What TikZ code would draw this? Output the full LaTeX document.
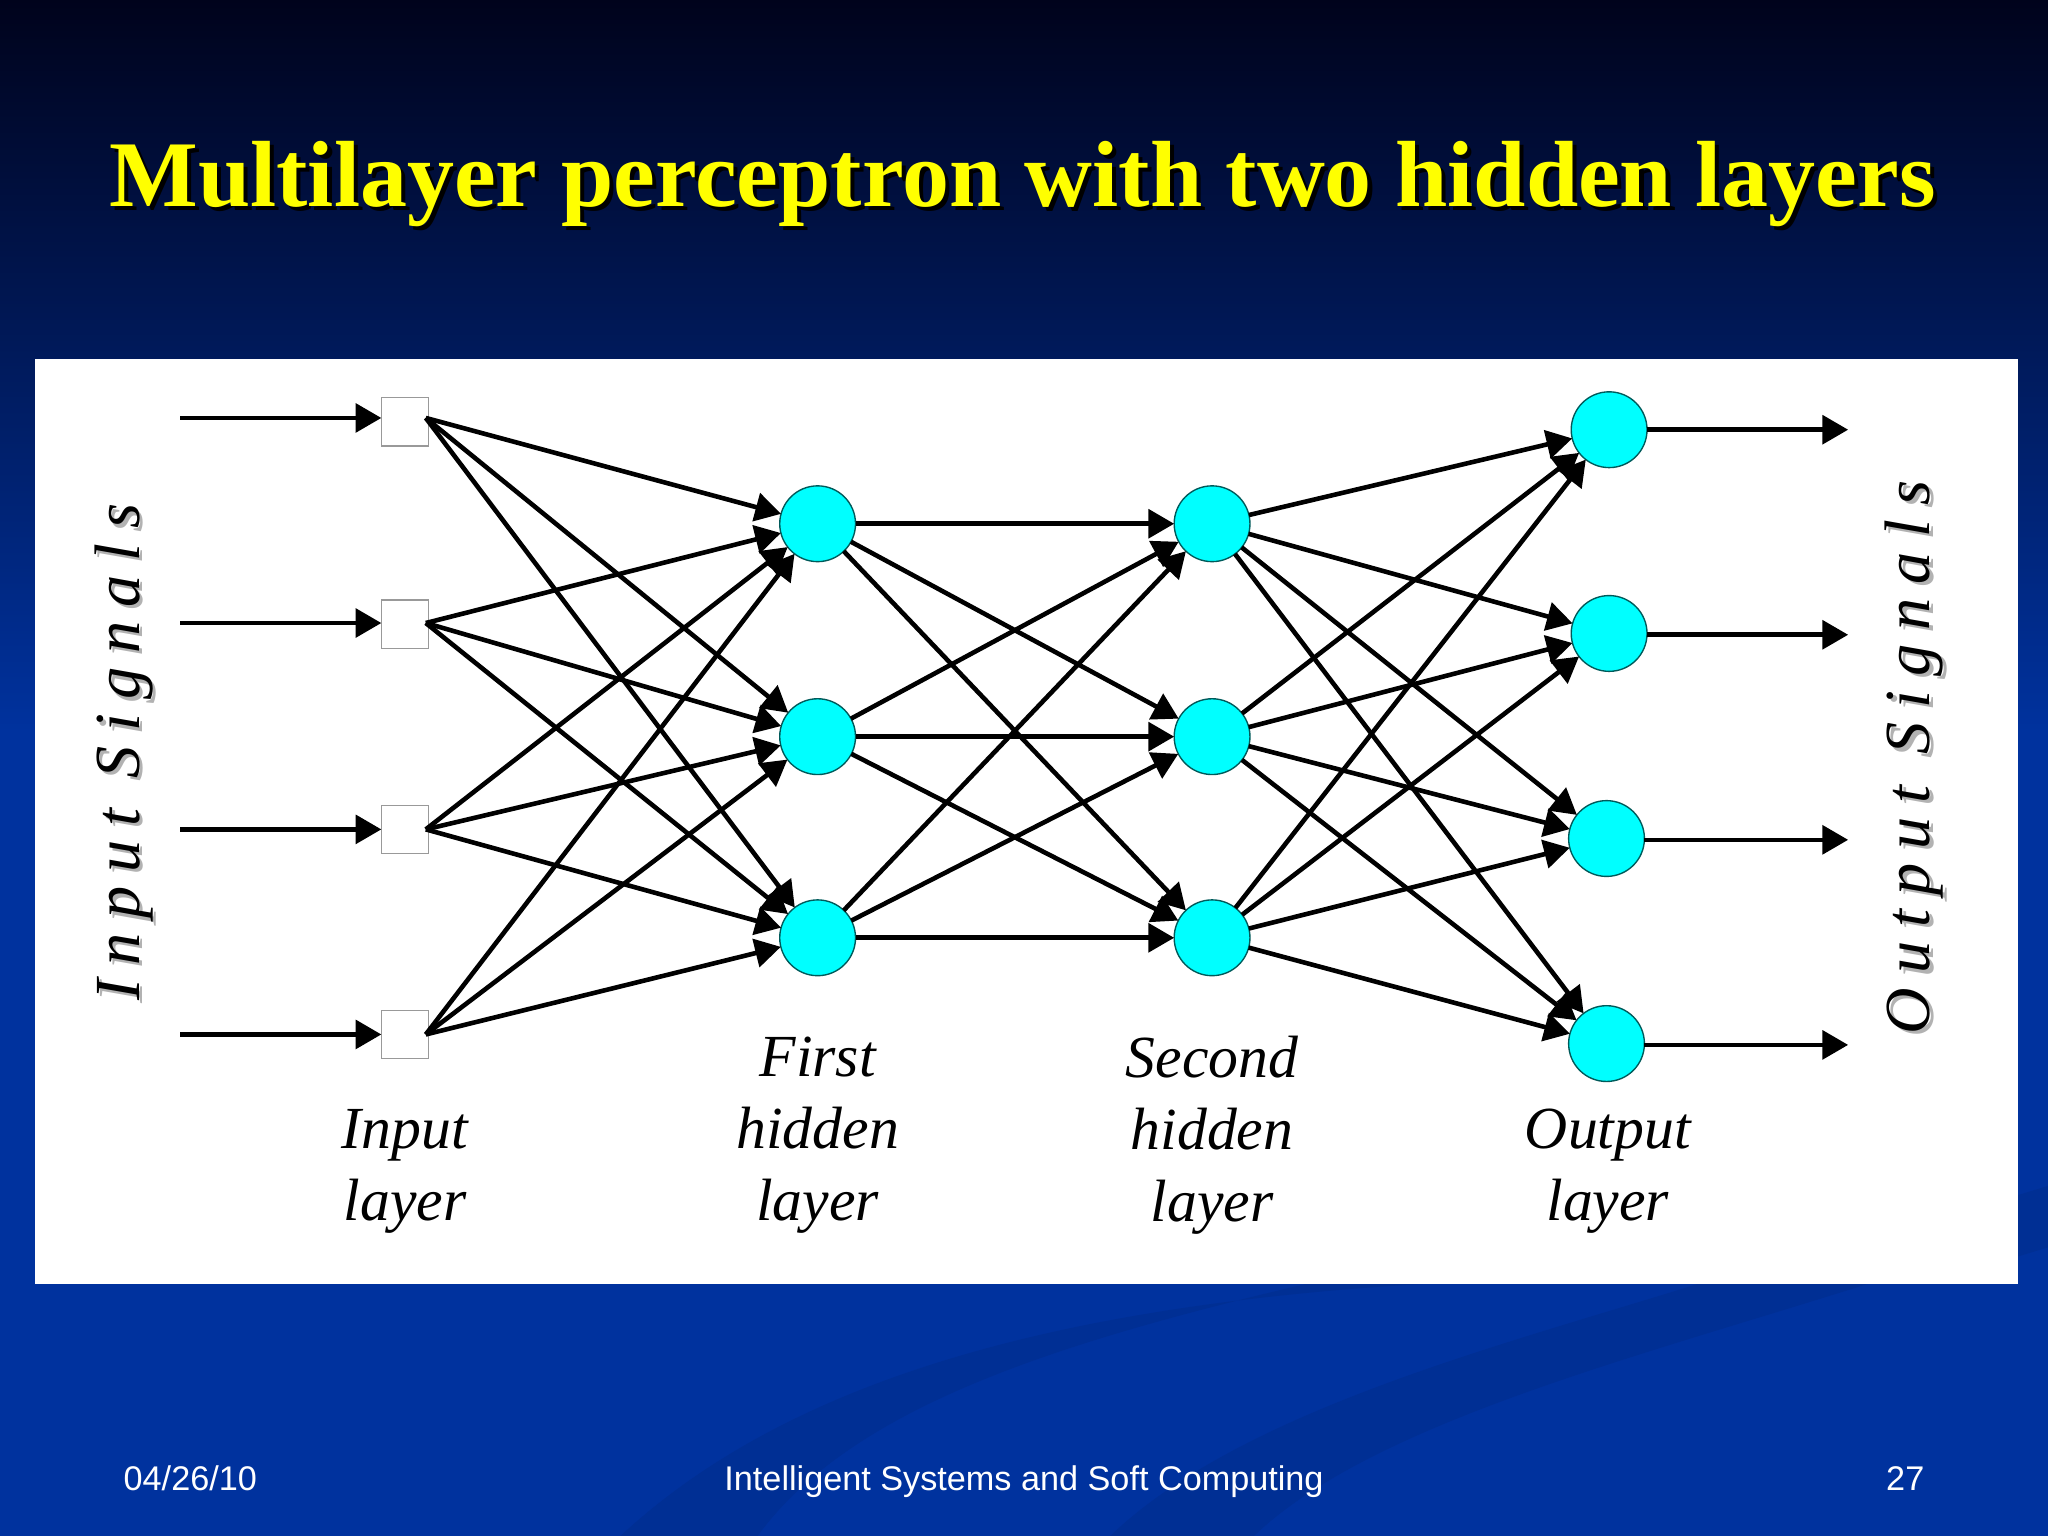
\documentclass[tikz,border=0pt]{standalone}
\usepackage{fontspec}
\setmainfont{Liberation Serif}
\setsansfont{Liberation Sans}
\usetikzlibrary{arrows.meta}
\definecolor{deepnavy}{RGB}{0,3,28}
\definecolor{slideblue}{RGB}{0,50,158}
\definecolor{swoosh}{RGB}{0,47,148}
\definecolor{titleyellow}{RGB}{255,255,0}
\definecolor{neuroncyan}{RGB}{0,255,255}
\definecolor{neuronedge}{RGB}{0,90,90}
\newcommand{\shadowed}[4]{\makebox[0pt][l]{\kern#1\raisebox{#2}{\textcolor{#3}{#4}}}#4}
\tikzset{
  link/.style={line width=1pt,-{Triangle[length=5.6pt,width=6.2pt]}},
  neuron/.style={circle,draw=neuronedge,line width=0.3pt,fill=neuroncyan,minimum size=0.58cm,inner sep=0pt,outer sep=0pt},
  inbox/.style={rectangle,draw=black!40,line width=0.3pt,fill=white,minimum width=0.36cm,minimum height=0.37cm,inner sep=0pt,outer sep=0pt},
  laylabel/.style={align=center,font=\fontsize{13}{15.65}\selectfont\itshape},
  siglabel/.style={rotate=90,inner sep=0pt,font=\fontsize{14}{16}\selectfont\itshape\addfontfeature{LetterSpace=22}},
  footer/.style={text=white,inner sep=0pt,font=\fontsize{7.45}{9}\selectfont\sffamily}
}
\begin{document}
\begin{tikzpicture}[x=0.01cm,y=-0.01cm]
\useasboundingbox (0,0) rectangle (1568,1176);
% background
\fill [slideblue] (0,0) rectangle (1568,1176);
\shade [top color=deepnavy,bottom color=slideblue] (0,0) rectangle (1568,560);
\fill [swoosh] (475,1176) .. controls (600,1060) and (800,1000) .. (1090,983) -- (1000,983) .. controls (800,1030) and (650,1080) .. (580,1176) -- cycle;
\fill [swoosh] (850,1176) .. controls (950,1080) and (1150,1030) .. (1300,983) -- (1430,983) .. controls (1250,1040) and (1050,1090) .. (960,1176) -- cycle;
\fill [swoosh] (1545,915) -- (1568,908) -- (1568,955) -- (1545,962) -- cycle;
\node (title) [text=titleyellow,anchor=base,inner sep=0pt,font=\fontsize{20.46}{24}\selectfont\bfseries] at (783,158) {\shadowed{0.9pt}{-0.9pt}{black}{Multilayer perceptron with two hidden layers}};
\fill [white] (27,275) rectangle (1545,983);

\foreach \i/\y in {1/323,2/478,3/635,4/792} {\node (sq\i) [inbox] at (310,\y) {};}
\foreach \i/\y in {1/401,2/564,3/718} {
  \node (ha\i) [neuron] at (626,\y) {};
  \node (hb\i) [neuron] at (928,\y) {};
}
\foreach \i/\x/\y in {1/1232/329,2/1232/485,3/1230/642,4/1230/799} {\node (ou\i) [neuron] at (\x,\y) {};}

% signal ends
\foreach \i/\y in {1/320,2/477,3/635,4/792} {
  \coordinate (sg\i) at (138,\y);
  \coordinate (jn\i) at (326,\y);
  \draw [link] (sg\i) -- (sg\i -| sq\i.west);
}
\foreach \i/\y in {1/329,2/486,3/643,4/800} {
  \coordinate (ex\i) at (1415,\y);
  \draw [link] (ex\i -| ou\i.east) -- (ex\i);
}

\foreach \i in {1,2,3,4} {\foreach \j in {1,2,3} {\draw [link] (jn\i) -- (ha\j);}}
\foreach \i in {1,2,3} {\foreach \j in {1,2,3} {\draw [link] (ha\i) -- (hb\j);}}
\foreach \i in {1,2,3} {\foreach \j in {1,2,3,4} {\draw [link] (hb\i) -- (ou\j);}}

\node (lbin) [laylabel] at (310,897) {Input\\layer};
\node (lbfi) [laylabel] at (626,869) {First\\hidden\\layer};
\node (lbse) [laylabel] at (928,869) {Second\\hidden\\layer};
\node (lbou) [laylabel] at (1231,897) {Output\\layer};

\node (sigin) [siglabel] at (96,576) {\shadowed{-0.7pt}{-0.7pt}{black!30}{Input Signals}};
\node (sigout) [siglabel] at (1467,580) {\shadowed{-0.7pt}{-0.7pt}{black!30}{Output Signals}};

\node (date) [footer,anchor=base west] at (94,1141) {04/26/10};
\node (course) [footer,anchor=base] at (784,1141) {Intelligent Systems and Soft Computing};
\node (page) [footer,anchor=base east] at (1474,1141) {27};
\end{tikzpicture}
\end{document}
